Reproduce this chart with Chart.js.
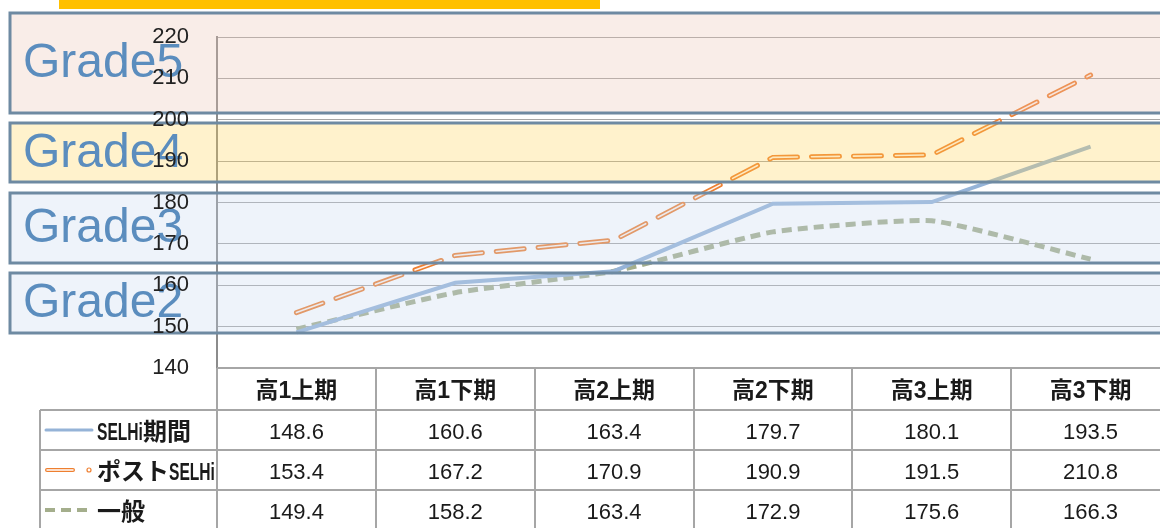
<!DOCTYPE html>
<html>
<head>
<meta charset="utf-8">
<script src="https://cdn.jsdelivr.net/npm/chart.js@4/dist/chart.umd.min.js"></script>
<style>
  html, body { margin: 0; padding: 0; background: #fff; overflow: hidden; }
  #wrap { width: 1170px; height: 528px; position: relative; }
</style>
</head>
<body>
<div id="wrap"><canvas id="c" width="1170" height="528"></canvas></div>
<script>
// ---- data ----
const categories = ['高1上期', '高1下期', '高2上期', '高2下期', '高3上期', '高3下期'];
const seriesNames = ['SELHi期間', 'ポストSELHi', '一般'];
const selhiValues = [148.6, 160.6, 163.4, 179.7, 180.1, 193.5];
const postValues = [153.4, 167.2, 170.9, 190.9, 191.5, 210.8];
const generalValues = [149.4, 158.2, 163.4, 172.9, 175.6, 166.3];
const yTicks = [140, 150, 160, 170, 180, 190, 200, 210, 220];
const gradeLabels = ['Grade5', 'Grade4', 'Grade3', 'Grade2'];

// ---- styling ----
const FONT = 'Arial, "Liberation Sans", "Noto Sans CJK JP", sans-serif';
const BLUE = '#95B3D7';
const ORANGE = '#EE7F30';
const OLIVE = '#A4AE8C';
const GRID = '#A6A6A6';

// overlay boxes for the grade bands (pixel positions)
const gradeBoxes = [
  { top: 13, bottom: 113, fill: 'rgba(235,195,178,0.3)' },
  { top: 123, bottom: 182, fill: 'rgba(255,212,85,0.3)' },
  { top: 193, bottom: 263, fill: 'rgba(198,215,238,0.3)' },
  { top: 273, bottom: 333, fill: 'rgba(198,215,238,0.3)' }
];

// Latin parts of the legend labels are drawn condensed
const drawMixed = (ctx, text, x, y) => {
  const runs = text.match(/[A-Za-z]+|[^A-Za-z]+/g);
  let cx = x;
  runs.forEach(run => {
    const w = ctx.measureText(run).width;
    const sx = /[A-Za-z]/.test(run) ? 0.65 : 1;
    ctx.save();
    ctx.translate(cx, y);
    ctx.scale(sx, 1);
    ctx.fillText(run, 0, 0);
    ctx.restore();
    cx += w * sx;
  });
};

// draws the grade bands, y labels and the data table underneath
const overlayPlugin = {
  id: 'overlay',
  beforeDraw(chart) {
    const ctx = chart.ctx;
    ctx.save();
    ctx.fillStyle = '#FFC000';
    ctx.fillRect(59, 0, 541, 9);
    ctx.restore();
  },
  afterDraw(chart) {
    const ctx = chart.ctx;
    const x = chart.scales.x;
    const y = chart.scales.y;
    const area = chart.chartArea;
    ctx.save();

    // grade bands on top of the plot
    gradeBoxes.forEach((b, i) => {
      ctx.fillStyle = b.fill;
      ctx.fillRect(10, b.top, 1170, b.bottom - b.top);
      ctx.strokeStyle = '#6E8AA2';
      ctx.lineWidth = 3;
      ctx.strokeRect(10, b.top, 1170, b.bottom - b.top);
      ctx.fillStyle = '#5B8DBE';
      ctx.font = '48px ' + FONT;
      ctx.textBaseline = 'middle';
      ctx.textAlign = 'left';
      ctx.fillText(gradeLabels[i], 23, (b.top + b.bottom) / 2 + 1);
    });

    // y tick labels
    ctx.fillStyle = '#222';
    ctx.font = '22px ' + FONT;
    ctx.textAlign = 'right';
    ctx.textBaseline = 'middle';
    yTicks.forEach(v => ctx.fillText(String(v), 189, y.getPixelForValue(v)));

    // table grid
    const colW = (area.right - area.left) / categories.length;
    const rowTop = [area.bottom, 410, 450, 490, 530];
    ctx.strokeStyle = GRID;
    ctx.lineWidth = 2;
    ctx.beginPath();
    for (let i = 0; i <= categories.length; i++) {
      const cx = Math.round(area.left + i * colW);
      ctx.moveTo(cx, area.bottom);
      ctx.lineTo(cx, 528);
    }
    ctx.moveTo(40, 410); ctx.lineTo(40, 528);
    rowTop.forEach((ry, i) => {
      ctx.moveTo(i === 0 ? area.left : 40, ry);
      ctx.lineTo(area.right, ry);
    });
    ctx.stroke();

    // header row
    ctx.fillStyle = '#1a1a1a';
    ctx.textAlign = 'center';
    ctx.font = 'bold 23px ' + FONT;
    categories.forEach((c, i) => ctx.fillText(c, x.getPixelForValue(i), 392));

    // value rows
    const rows = [selhiValues, postValues, generalValues];
    ctx.font = '22px ' + FONT;
    rows.forEach((vals, r) => {
      const cy = (rowTop[r + 1] + rowTop[r + 2]) / 2 + 3;
      vals.forEach((v, i) => ctx.fillText(v.toFixed(1), x.getPixelForValue(i), cy));
    });

    // legend cells
    ctx.textAlign = 'left';
    ctx.font = 'bold 24px ' + FONT;
    rows.forEach((vals, r) => {
      const cy = (rowTop[r + 1] + rowTop[r + 2]) / 2 + 3;
      drawMixed(ctx, seriesNames[r], 97, cy);
    });
    // legend samples
    let cy = 430;
    ctx.lineCap = 'round';
    ctx.strokeStyle = BLUE; ctx.lineWidth = 3;
    ctx.beginPath(); ctx.moveTo(46, cy); ctx.lineTo(92, cy); ctx.stroke();
    cy = 470;
    ctx.strokeStyle = ORANGE; ctx.lineWidth = 4;
    ctx.beginPath(); ctx.moveTo(47, cy); ctx.lineTo(73, cy); ctx.stroke();
    ctx.strokeStyle = '#fff'; ctx.lineWidth = 1.5;
    ctx.beginPath(); ctx.moveTo(47, cy); ctx.lineTo(73, cy); ctx.stroke();
    ctx.strokeStyle = ORANGE; ctx.lineWidth = 1.2;
    ctx.beginPath(); ctx.arc(89, cy, 2, 0, Math.PI * 2); ctx.stroke();
    cy = 510;
    ctx.strokeStyle = OLIVE; ctx.lineWidth = 4; ctx.lineCap = 'butt';
    ctx.setLineDash([10, 6]);
    ctx.beginPath(); ctx.moveTo(45, cy); ctx.lineTo(92, cy); ctx.stroke();
    ctx.setLineDash([]);

    ctx.restore();
  }
};

const datasets = [
  {
    label: seriesNames[0], data: selhiValues, borderColor: BLUE, borderWidth: 4,
    pointRadius: 0, tension: 0, order: 3
  },
  {
    label: seriesNames[1], data: postValues, borderColor: ORANGE, borderWidth: 5,
    borderDash: [28, 14], borderCapStyle: 'round', pointRadius: 0, tension: 0, order: 2
  },
  {
    label: seriesNames[1] + '_inner', data: postValues, borderColor: '#fdf3ec', borderWidth: 1.6,
    borderDash: [28, 14], borderCapStyle: 'round', pointRadius: 0, tension: 0, order: 1
  },
  {
    label: seriesNames[2], data: generalValues, borderColor: OLIVE, borderWidth: 5,
    borderDash: [10, 6], pointRadius: 0, tension: 0.15, order: 4
  }
];

new Chart(document.getElementById('c'), {
  type: 'line',
  data: { labels: categories, datasets },
  options: {
    responsive: false,
    animation: false,
    layout: { padding: { top: 37, bottom: 160, left: 0, right: 0 } },
    plugins: { legend: { display: false }, tooltip: { enabled: false } },
    scales: {
      x: { display: false, offset: true },
      y: {
        min: 140, max: 220,
        ticks: { stepSize: 10, display: false },
        grid: { color: GRID, lineWidth: 1, drawTicks: false },
        border: { color: '#8C8C8C', width: 2 },
        afterFit: (scale) => { scale.width = 217; }
      }
    }
  },
  plugins: [overlayPlugin]
});
</script>
</body>
</html>
